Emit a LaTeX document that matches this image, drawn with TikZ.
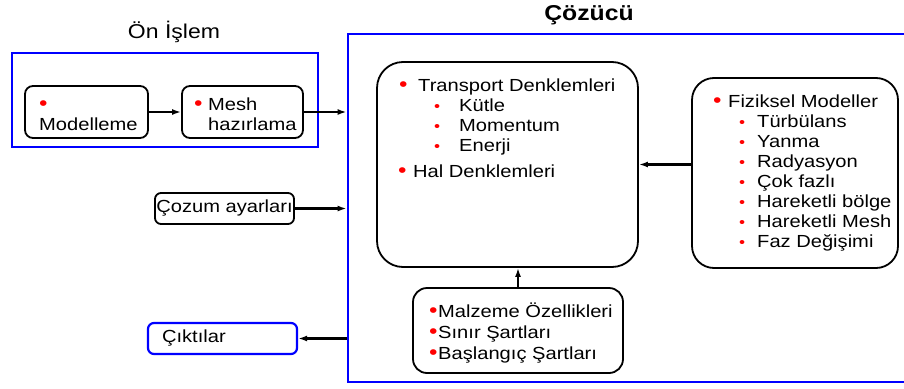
\documentclass[tikz,border=0pt]{standalone}
\usepackage{fontspec}
\setmainfont[FakeStretch=1.15]{Liberation Sans}
\usepackage{tikz}
\usetikzlibrary{positioning,arrows.meta,calc}
\usepackage{xcolor}
\newcommand{\rb}{\textcolor{red}{\fontsize{21}{20}\selectfont•}}
\newcommand{\rs}{\textcolor{red}{\fontsize{15}{15}\selectfont•}}
\tikzset{
  blk/.style={draw,line width=1.8pt,inner sep=0pt},
  bluebox/.style={draw=blue,line width=2.8pt,inner sep=0pt},
  lst/.style={inner sep=0pt,anchor=base west,align=left,font=\fontsize{17.5}{20}\selectfont},
  arr/.style={draw,-{Latex[length=9pt,width=6pt]},line width=2.4pt},
}
\begin{document}
\begin{tikzpicture}[x=1pt,y=-1pt]
\useasboundingbox (0,0) rectangle (904,388);

\node[anchor=base,font=\fontsize{20}{24}\selectfont] (pretitle) at (174,38) {Ön İşlem};
\node[anchor=base,font=\fontsize{21.5}{24}\selectfont\bfseries] (soltitle) at (589,20) {Çözücü};

\node[bluebox,minimum width=306pt,minimum height=94pt] (pre) at (165,100) {};
\node[bluebox,minimum width=582pt,minimum height=348pt] (solver) at (639,208) {};

\node[blk,rounded corners=8pt,minimum width=123pt,minimum height=52pt] (model) at (86.5,112) {};
\node[blk,rounded corners=8pt,minimum width=121pt,minimum height=52pt] (mesh) at (242.5,112) {};
\node[lst] (modeltxt) at (39,130) {\hspace*{0pt}\rb\\Modelleme};
\node[lst] (meshtxt) at (194,130) {\makebox[14pt][l]{\rb}Mesh\\\hspace*{14pt}hazırlama};

\node[blk,rounded corners=26pt,minimum width=261pt,minimum height=205pt] (tr) at (507.5,164.5) {};
\node[lst] (trtxt) at (399,151) {\makebox[19pt][l]{\rb}Transport Denklemleri\\
  \hspace*{35pt}\makebox[25pt][l]{\rs}Kütle\\
  \hspace*{35pt}\makebox[25pt][l]{\rs}Momentum\\
  \hspace*{35pt}\makebox[25pt][l]{\rs}Enerji};
\node[lst] (haltxt) at (398,177) {\makebox[15pt][l]{\rb}Hal Denklemleri};

\node[blk,rounded corners=22pt,minimum width=206pt,minimum height=190pt] (phys) at (795,173) {};
\node[lst] (phystxt) at (713,247) {\makebox[15pt][l]{\rb}Fiziksel Modeller\\
  \hspace*{26pt}\makebox[18pt][l]{\rs}Türbülans\\
  \hspace*{26pt}\makebox[18pt][l]{\rs}Yanma\\
  \hspace*{26pt}\makebox[18pt][l]{\rs}Radyasyon\\
  \hspace*{26pt}\makebox[18pt][l]{\rs}Çok fazlı\\
  \hspace*{26pt}\makebox[18pt][l]{\rs}Hareketli bölge\\
  \hspace*{26pt}\makebox[18pt][l]{\rs}Hareketli Mesh\\
  \hspace*{26pt}\makebox[18pt][l]{\rs}Faz Değişimi};

\node[blk,rounded corners=14pt,minimum width=210pt,minimum height=85pt] (prop) at (518,330.5) {};
\node[lst] (proptxt) at (429,359) {\makebox[9pt][l]{\rb}Malzeme Özellikleri\\[1pt]
  \makebox[9pt][l]{\rb}Sınır Şartları\\[1pt]
  \makebox[9pt][l]{\rb}Başlangıç Şartları};

\node[blk,rounded corners=6pt,minimum width=139pt,minimum height=31pt,
  font=\fontsize{17.5}{20}\selectfont] (ayar) at (224.5,208.5) {Çozum ayarları};
\node[bluebox,line width=2.2pt,rounded corners=6pt,minimum width=149pt,minimum height=31pt,
  text width=121pt,inner xsep=14pt,align=left,
  font=\fontsize{17.5}{20}\selectfont] (out) at (222.5,338.5) {Çıktılar};

\draw[arr] (model.east) -- (mesh.west);
\draw[arr] (mesh.east) -- (mesh.east -| solver.west);
\draw[arr] (ayar.east) -- (ayar.east -| solver.west);
\draw[arr] (out.east -| solver.west) -- (out.east);
\draw[arr] (phys.west |- tr.east) -- (tr.east);
\draw[arr] (prop.north) -- (prop.north |- tr.south);

\end{tikzpicture}
\end{document}
